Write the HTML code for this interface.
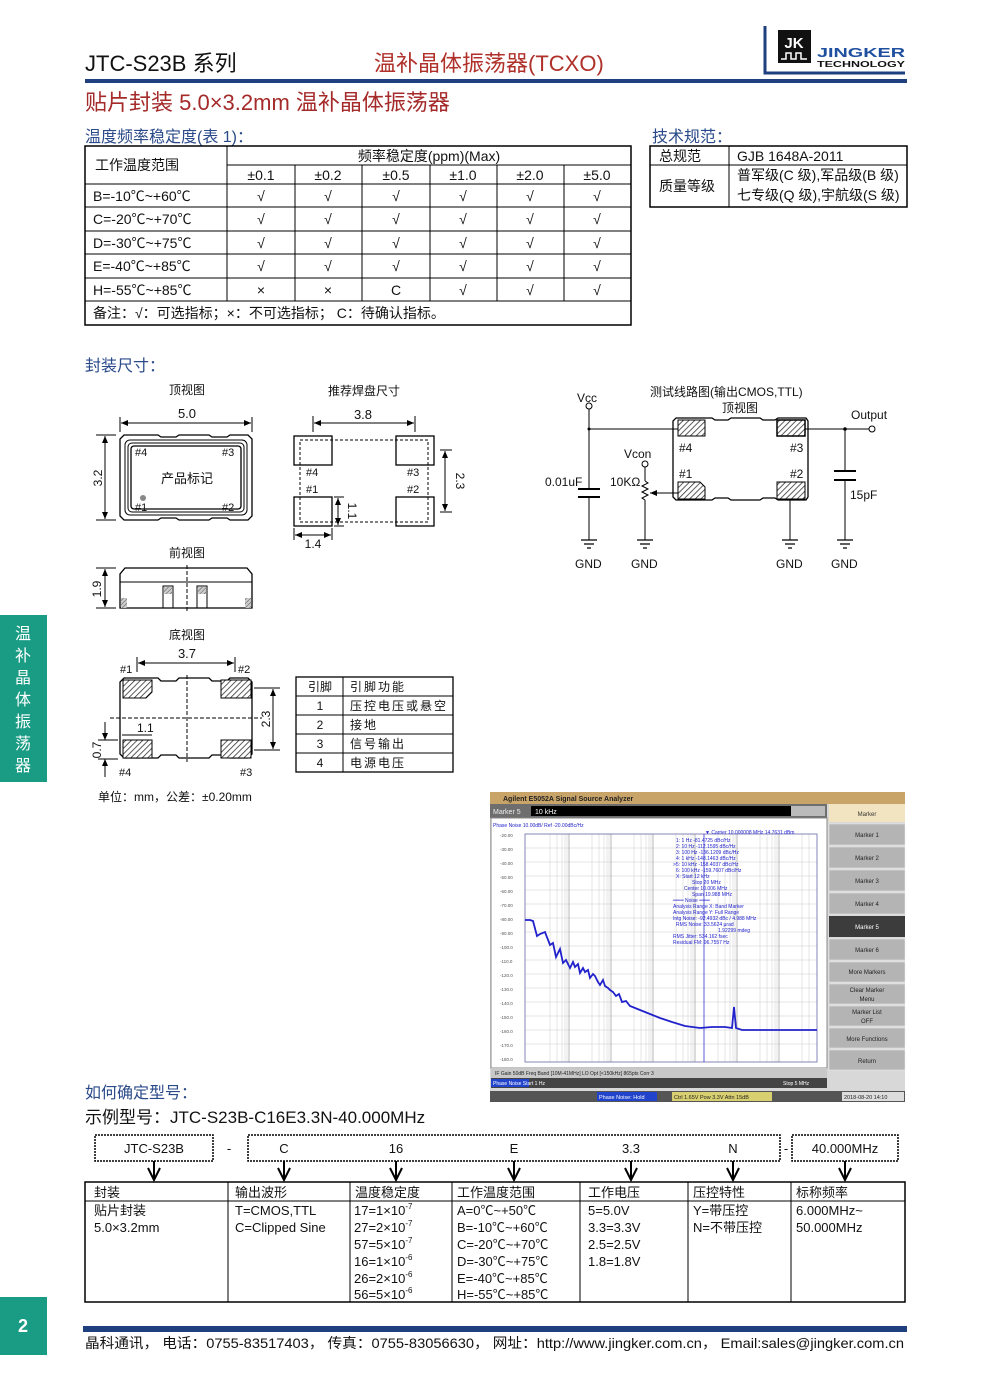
<!DOCTYPE html>
<html><head><meta charset="utf-8">
<style>
html,body{margin:0;padding:0;background:#fff}
svg{display:block}
text{font-family:"Liberation Sans","Noto Sans CJK SC",sans-serif}
</style></head><body>
<svg width="989" height="1400" viewBox="0 0 989 1400" xmlns="http://www.w3.org/2000/svg">
<defs>
<pattern id="h" width="4" height="4" patternUnits="userSpaceOnUse" patternTransform="rotate(45)"><rect width="4" height="4" fill="#fff"/><line x1="0" y1="0" x2="0" y2="4" stroke="#333" stroke-width="1.6"/></pattern>
<pattern id="h2" width="3" height="3" patternUnits="userSpaceOnUse" patternTransform="rotate(45)"><rect width="3" height="3" fill="#ccc"/><line x1="0" y1="0" x2="0" y2="3" stroke="#555" stroke-width="1"/></pattern>
<marker id="ar" markerWidth="8" markerHeight="8" refX="7" refY="4" orient="auto-start-reverse" markerUnits="userSpaceOnUse"><path d="M0,1 L7,4 L0,7 Z" fill="#000"/></marker>
</defs>

<!-- Header -->
<text x="85" y="71" font-size="22" fill="#111">JTC-S23B 系列</text>
<text x="374" y="71" font-size="22" fill="#b0302a">温补晶体振荡器(TCXO)</text>
<path d="M765,26 V73 H905" fill="none" stroke="#1f3f7f" stroke-width="3"/>
<rect x="778" y="30" width="33" height="33" fill="#111"/>
<text x="794" y="48" font-size="15" font-weight="bold" fill="#fff" text-anchor="middle">JK</text>
<path d="M781,59 h5 v-6 h5 v6 h5 v-6 h5 v6 h6" fill="none" stroke="#fff" stroke-width="1.5"/>
<text x="817" y="57" font-size="13" font-weight="bold" fill="#1f4f9f" textLength="88" lengthAdjust="spacingAndGlyphs">JINGKER</text>
<text x="817" y="67" font-size="8" font-weight="bold" fill="#111" textLength="88" lengthAdjust="spacingAndGlyphs">TECHNOLOGY</text>
<rect x="85" y="79" width="822" height="4" fill="#1f3f7f"/>

<text x="85" y="110" font-size="22" fill="#a52a2a">贴片封装 5.0×3.2mm 温补晶体振荡器</text>
<text x="85" y="142" font-size="16" fill="#2a4a8a">温度频率稳定度(表 1)：</text>
<text x="652" y="142" font-size="16" fill="#2a4a8a">技术规范：</text>

<g stroke="#000" fill="none">
<rect x="85" y="146" width="546" height="179" stroke-width="1.5"/>
<line x1="227" y1="165" x2="631" y2="165"/>
<line x1="85" y1="184" x2="631" y2="184"/>
<line x1="85" y1="207" x2="631" y2="207"/>
<line x1="85" y1="231" x2="631" y2="231"/>
<line x1="85" y1="254" x2="631" y2="254"/>
<line x1="85" y1="278" x2="631" y2="278"/>
<line x1="85" y1="301" x2="631" y2="301"/>
<line x1="227" y1="146" x2="227" y2="301"/>
<line x1="295" y1="165" x2="295" y2="301"/>
<line x1="362" y1="165" x2="362" y2="301"/>
<line x1="430" y1="165" x2="430" y2="301"/>
<line x1="497" y1="165" x2="497" y2="301"/>
<line x1="564" y1="165" x2="564" y2="301"/>
</g>
<g font-size="14" fill="#111">
<text x="95" y="170">工作温度范围</text>
<text x="429" y="161" text-anchor="middle">频率稳定度(ppm)(Max)</text>
<g text-anchor="middle">
<text x="261" y="180">±0.1</text><text x="328" y="180">±0.2</text><text x="396" y="180">±0.5</text><text x="463" y="180">±1.0</text><text x="530" y="180">±2.0</text><text x="597" y="180">±5.0</text>
</g>
<text x="93" y="201">B=-10℃~+60℃</text>
<text x="93" y="224">C=-20℃~+70℃</text>
<text x="93" y="248">D=-30℃~+75℃</text>
<text x="93" y="271">E=-40℃~+85℃</text>
<text x="93" y="295">H=-55℃~+85℃</text>
<g text-anchor="middle">
<text x="261" y="201">√</text><text x="328" y="201">√</text><text x="396" y="201">√</text><text x="463" y="201">√</text><text x="530" y="201">√</text><text x="597" y="201">√</text>
<text x="261" y="224">√</text><text x="328" y="224">√</text><text x="396" y="224">√</text><text x="463" y="224">√</text><text x="530" y="224">√</text><text x="597" y="224">√</text>
<text x="261" y="248">√</text><text x="328" y="248">√</text><text x="396" y="248">√</text><text x="463" y="248">√</text><text x="530" y="248">√</text><text x="597" y="248">√</text>
<text x="261" y="271">√</text><text x="328" y="271">√</text><text x="396" y="271">√</text><text x="463" y="271">√</text><text x="530" y="271">√</text><text x="597" y="271">√</text>
<text x="261" y="295">×</text><text x="328" y="295">×</text><text x="396" y="295">C</text><text x="463" y="295">√</text><text x="530" y="295">√</text><text x="597" y="295">√</text>
</g>
<text x="93" y="318">备注：√：可选指标；×：不可选指标； C：待确认指标。</text>
</g>

<g stroke="#000" fill="none">
<rect x="650" y="146" width="257" height="61" stroke-width="1.5"/>
<line x1="650" y1="165" x2="907" y2="165"/>
<line x1="729" y1="146" x2="729" y2="207"/>
</g>
<g font-size="14" fill="#111">
<text x="659" y="161">总规范</text>
<text x="737" y="161">GJB 1648A-2011</text>
<text x="659" y="191">质量等级</text>
<text x="737" y="180">普军级(C 级),军品级(B 级)</text>
<text x="737" y="200">七专级(Q 级),宇航级(S 级)</text>
</g>

<text x="85" y="371" font-size="16" fill="#2a4a8a">封装尺寸：</text>

<g font-size="12" fill="#111" text-anchor="middle">
<text x="187" y="394">顶视图</text>
<text x="364" y="395">推荐焊盘尺寸</text>
<text x="187" y="557">前视图</text>
<text x="187" y="639">底视图</text>
<text x="187" y="418" font-size="13">5.0</text>
<text x="363" y="419" font-size="13">3.8</text>
<text x="187" y="658" font-size="13">3.7</text>
</g>
<g stroke="#000" fill="none" stroke-width="1">
<line x1="120" y1="417" x2="120" y2="432"/><line x1="252" y1="417" x2="252" y2="432"/>
<line x1="121" y1="423" x2="251" y2="423" marker-start="url(#ar)" marker-end="url(#ar)"/>
<line x1="96" y1="435" x2="116" y2="435"/><line x1="96" y1="520" x2="116" y2="520"/>
<line x1="105" y1="436" x2="105" y2="519" marker-start="url(#ar)" marker-end="url(#ar)"/>
<path d="M124,435 H158 L161,437 H176 L179,435 H209 L212,437 H227 L230,435 H248 L252,439 V516 L248,520 H230 L227,518 H212 L209,520 H179 L176,518 H161 L158,520 H124 L120,516 V439 Z" stroke-width="1.3"/>
<rect x="125" y="440" width="122" height="75" rx="5"/>
<rect x="128" y="443" width="116" height="69" rx="4"/>
<rect x="131" y="446" width="110" height="63" rx="3" stroke-width="1.3"/>
<rect x="294" y="436" width="38" height="29" stroke-width="1.3"/>
<rect x="396" y="436" width="38" height="29" stroke-width="1.3"/>
<rect x="294" y="497" width="38" height="29" stroke-width="1.3"/>
<rect x="396" y="497" width="38" height="29" stroke-width="1.3"/>
<rect x="300" y="440" width="128" height="82" stroke-dasharray="3,2"/>
<line x1="313" y1="416" x2="313" y2="432"/><line x1="415" y1="416" x2="415" y2="432"/>
<line x1="314" y1="423" x2="414" y2="423" marker-start="url(#ar)" marker-end="url(#ar)"/>
<line x1="440" y1="450" x2="452" y2="450"/><line x1="440" y1="512" x2="452" y2="512"/>
<line x1="445" y1="451" x2="445" y2="511" marker-start="url(#ar)" marker-end="url(#ar)"/>
<line x1="334" y1="497" x2="344" y2="497"/><line x1="334" y1="526" x2="344" y2="526"/>
<line x1="338" y1="498" x2="338" y2="525" marker-start="url(#ar)" marker-end="url(#ar)"/>
<line x1="294" y1="528" x2="294" y2="540"/><line x1="332" y1="528" x2="332" y2="540"/>
<line x1="295" y1="535" x2="331" y2="535" marker-start="url(#ar)" marker-end="url(#ar)"/>
<path d="M125,568 H247 L252,574 V608 H120 V574 Z" stroke-width="1.3"/>
<line x1="120" y1="582" x2="252" y2="582"/>
<line x1="187" y1="565" x2="187" y2="612" stroke-dasharray="4,2"/>
<rect x="163" y="586" width="10" height="22"/><rect x="197" y="586" width="10" height="22"/>
<line x1="96" y1="568" x2="116" y2="568"/><line x1="96" y1="608" x2="116" y2="608"/>
<line x1="105" y1="569" x2="105" y2="607" marker-start="url(#ar)" marker-end="url(#ar)"/>
<line x1="137" y1="657" x2="137" y2="672"/><line x1="235" y1="657" x2="235" y2="672"/>
<line x1="138" y1="663" x2="234" y2="663" marker-start="url(#ar)" marker-end="url(#ar)"/>
<path d="M124,678 H158 L161,681 H176 L179,678 H209 L212,681 H227 L230,678 H248 L252,682 V754 L248,758 H230 L227,755 H212 L209,758 H179 L176,755 H161 L158,758 H124 L120,754 V682 Z" stroke-width="1.3"/>
<line x1="187" y1="675" x2="187" y2="762" stroke-dasharray="4,2"/>
<line x1="110" y1="718" x2="262" y2="718" stroke-dasharray="4,2"/>
<line x1="254" y1="688" x2="280" y2="688"/><line x1="254" y1="750" x2="280" y2="750"/>
<line x1="273" y1="689" x2="273" y2="749" marker-start="url(#ar)" marker-end="url(#ar)"/>
<line x1="122" y1="735" x2="152" y2="735"/>
<line x1="98" y1="740" x2="118" y2="740"/><line x1="98" y1="759" x2="118" y2="759"/>
<line x1="105" y1="722" x2="105" y2="740" marker-end="url(#ar)"/>
<line x1="105" y1="777" x2="105" y2="759" marker-end="url(#ar)"/>
</g>
<g fill="#888"><circle cx="143" cy="498" r="3"/></g>
<rect x="164" y="587" width="8" height="7" fill="url(#h2)"/><rect x="198" y="587" width="8" height="7" fill="url(#h2)"/>
<rect x="121" y="598" width="6" height="10" fill="url(#h2)"/><rect x="245" y="598" width="6" height="10" fill="url(#h2)"/>
<g stroke="#000" stroke-width="1">
<path d="M123,680 H152 V692 L146,698 H123 Z" fill="url(#h)"/>
<rect x="221" y="680" width="30" height="18" fill="url(#h)"/>
<rect x="123" y="740" width="29" height="18" fill="url(#h)"/>
<rect x="221" y="740" width="30" height="18" fill="url(#h)"/>
</g>
<g font-size="11" fill="#111">
<text x="135" y="456">#4</text><text x="222" y="456">#3</text>
<text x="135" y="511">#1</text><text x="222" y="511">#2</text>
<text x="187" y="483" text-anchor="middle" font-size="13">产品标记</text>
<text x="306" y="476">#4</text><text x="407" y="476">#3</text>
<text x="306" y="493">#1</text><text x="407" y="493">#2</text>
<text x="313" y="548" text-anchor="middle" font-size="12">1.4</text>
<text x="120" y="673">#1</text><text x="238" y="673">#2</text>
<text x="119" y="776">#4</text><text x="240" y="776">#3</text>
<text x="137" y="732" font-size="12">1.1</text>
<text x="102" y="478" font-size="12" transform="rotate(-90 102 478)" text-anchor="middle">3.2</text>
<text x="101" y="589" font-size="12" transform="rotate(-90 101 589)" text-anchor="middle">1.9</text>
<text x="456" y="481" font-size="12" transform="rotate(90 456 481)" text-anchor="middle">2.3</text>
<text x="348" y="511" font-size="12" transform="rotate(90 348 511)" text-anchor="middle">1.1</text>
<text x="270" y="719" font-size="12" transform="rotate(-90 270 719)" text-anchor="middle">2.3</text>
<text x="101" y="750" font-size="12" transform="rotate(-90 101 750)" text-anchor="middle">0.7</text>
<text x="98" y="801" font-size="12">单位：mm，公差：±0.20mm</text>
</g>
<g stroke="#000" fill="none">
<rect x="296" y="677" width="157" height="95" stroke-width="1.3"/>
<line x1="343" y1="677" x2="343" y2="772"/>
<line x1="296" y1="696" x2="453" y2="696"/><line x1="296" y1="715" x2="453" y2="715"/>
<line x1="296" y1="734" x2="453" y2="734"/><line x1="296" y1="753" x2="453" y2="753"/>
</g>
<g font-size="12" fill="#111">
<text x="320" y="691" text-anchor="middle">引脚</text><text x="350" y="691" letter-spacing="2">引脚功能</text>
<text x="320" y="710" text-anchor="middle">1</text><text x="350" y="710" letter-spacing="2">压控电压或悬空</text>
<text x="320" y="729" text-anchor="middle">2</text><text x="350" y="729" letter-spacing="2">接地</text>
<text x="320" y="748" text-anchor="middle">3</text><text x="350" y="748" letter-spacing="2">信号输出</text>
<text x="320" y="767" text-anchor="middle">4</text><text x="350" y="767" letter-spacing="2">电源电压</text>
</g>

<g font-size="12" fill="#111">
<text x="650" y="396">测试线路图(输出CMOS,TTL)</text>
<text x="722" y="412">顶视图</text>
<text x="577" y="402">Vcc</text>
<text x="851" y="419">Output</text>
<text x="624" y="458">Vcon</text>
<text x="610" y="486">10KΩ</text>
<text x="545" y="486">0.01uF</text>
<text x="850" y="499">15pF</text>
<text x="679" y="452">#4</text><text x="790" y="452">#3</text>
<text x="679" y="478">#1</text><text x="790" y="478">#2</text>
<text x="575" y="568">GND</text><text x="631" y="568">GND</text><text x="776" y="568">GND</text><text x="831" y="568">GND</text>
</g>
<g stroke="#000" fill="none" stroke-width="1">
<path d="M676,418 H712 L715,420 H728 L731,418 H760 L763,420 H775 L778,418 H806 L808,421 V497 L806,500 H778 L775,498 H763 L760,500 H731 L728,498 H715 L712,500 H676 L673,497 V421 Z" stroke-width="1.3"/>
<circle cx="589" cy="406" r="3"/>
<line x1="589" y1="409" x2="589" y2="489"/>
<line x1="589" y1="429" x2="679" y2="429"/>
<line x1="578" y1="489" x2="600" y2="489" stroke-width="2"/>
<line x1="578" y1="497" x2="600" y2="497" stroke-width="2"/>
<line x1="589" y1="497" x2="589" y2="540"/>
<circle cx="645" cy="464" r="3"/>
<line x1="645" y1="467" x2="645" y2="481"/>
<path d="M645,481 l3,2 l-6,3 l6,3 l-6,3 l6,3 l-6,3 l3,2"/>
<line x1="645" y1="500" x2="645" y2="540"/>
<line x1="680" y1="493" x2="650" y2="493" marker-end="url(#ar)"/>
<line x1="805" y1="429" x2="869" y2="429"/>
<circle cx="872" cy="429" r="3"/>
<line x1="845" y1="429" x2="845" y2="471"/>
<line x1="834" y1="471" x2="856" y2="471" stroke-width="2"/>
<line x1="834" y1="480" x2="856" y2="480" stroke-width="2"/>
<line x1="845" y1="480" x2="845" y2="540"/>
<line x1="790" y1="498" x2="790" y2="540"/>
<g stroke-width="1.3">
<path d="M581,540 h16 M584,544 h10 M587,548 h4"/>
<path d="M637,540 h16 M640,544 h10 M643,548 h4"/>
<path d="M782,540 h16 M785,544 h10 M788,548 h4"/>
<path d="M837,540 h16 M840,544 h10 M843,548 h4"/>
</g>
<path d="M678,420 H705 V436 H678 Z" fill="url(#h)"/>
<path d="M777,420 H805 V436 H777 Z" fill="url(#h)" stroke-width="1.5"/>
<path d="M678,482 H700 L705,487 V499 H678 Z" fill="url(#h)"/>
<rect x="777" y="482" width="28" height="17" fill="url(#h)"/>
</g>
<circle cx="845" cy="429" r="1.8" fill="#000"/>
<circle cx="589" cy="429" r="1.5" fill="#000"/>

<rect x="0" y="615" width="47" height="167" fill="#1a9c84"/>
<g font-size="16" fill="#fff" text-anchor="middle">
<text x="23" y="639">温</text><text x="23" y="661">补</text><text x="23" y="683">晶</text><text x="23" y="705">体</text><text x="23" y="727">振</text><text x="23" y="749">荡</text><text x="23" y="771">器</text>
</g>

<!-- Analyzer -->
<rect x="490" y="792" width="415" height="310" fill="#d8d8d8"/>
<rect x="490" y="792" width="415" height="12" fill="#c9a469"/>
<text x="503" y="801" font-size="7" font-weight="bold" fill="#222">Agilent E5052A Signal Source Analyzer</text>
<rect x="490" y="804" width="337" height="14" fill="#6e6e6e"/>
<rect x="531" y="806" width="260" height="10" fill="#000"/>
<text x="493" y="814" font-size="7" fill="#eee">Marker 5</text>
<text x="535" y="814" font-size="7" fill="#fff">10 kHz</text>
<rect x="791" y="806" width="34" height="10" fill="#bbb"/>
<rect x="491" y="818" width="336" height="250" fill="#fff" stroke="#888"/>
<text x="493" y="827" font-size="5" fill="#22c">Phase Noise 10.00dB/ Ref -20.00dBc/Hz</text>
<g stroke="#ccc" stroke-width="0.5">
<line x1="525" y1="848" x2="817" y2="848"/><line x1="525" y1="862" x2="817" y2="862"/><line x1="525" y1="876" x2="817" y2="876"/><line x1="525" y1="890" x2="817" y2="890"/><line x1="525" y1="904" x2="817" y2="904"/><line x1="525" y1="918" x2="817" y2="918"/><line x1="525" y1="932" x2="817" y2="932"/><line x1="525" y1="946" x2="817" y2="946"/><line x1="525" y1="960" x2="817" y2="960"/><line x1="525" y1="974" x2="817" y2="974"/><line x1="525" y1="988" x2="817" y2="988"/><line x1="525" y1="1002" x2="817" y2="1002"/><line x1="525" y1="1016" x2="817" y2="1016"/><line x1="525" y1="1030" x2="817" y2="1030"/><line x1="525" y1="1044" x2="817" y2="1044"/>
<path d="M550,834V1062M557,834V1062M562,834V1062M565,834V1062M567,834V1062M592,834V1062M599,834V1062M604,834V1062M607,834V1062M609,834V1062M634,834V1062M641,834V1062M646,834V1062M649,834V1062M651,834V1062M676,834V1062M683,834V1062M688,834V1062M691,834V1062M693,834V1062M718,834V1062M725,834V1062M730,834V1062M733,834V1062M735,834V1062M760,834V1062M767,834V1062M772,834V1062M775,834V1062M777,834V1062M802,834V1062M809,834V1062"/>
</g>
<g stroke="#999" stroke-width="0.7"><path d="M569,834V1062M611,834V1062M653,834V1062M695,834V1062M737,834V1062M779,834V1062"/></g>
<rect x="525" y="834" width="292" height="228" fill="none" stroke="#66a" stroke-width="0.8"/>
<g font-size="4.5" fill="#555">
<text x="500" y="837">-20.00</text><text x="500" y="851">-30.00</text><text x="500" y="865">-40.00</text><text x="500" y="879">-50.00</text><text x="500" y="893">-60.00</text><text x="500" y="907">-70.00</text><text x="500" y="921">-80.00</text><text x="500" y="935">-90.00</text><text x="500" y="949">-100.0</text><text x="500" y="963">-110.0</text><text x="500" y="977">-120.0</text><text x="500" y="991">-130.0</text><text x="500" y="1005">-140.0</text><text x="500" y="1019">-150.0</text><text x="500" y="1033">-160.0</text><text x="500" y="1047">-170.0</text><text x="500" y="1061">-180.0</text>
</g>
<line x1="704" y1="834" x2="704" y2="1062" stroke="#33c" stroke-width="0.8"/>
<polyline fill="none" stroke="#22c" stroke-width="1.8" points="525,920 530,920 533,921 537,936 540,934 545,932 550,945 553,943 556,957 560,949 563,963 566,960 570,968 573,962 575,967 578,964 580,973 583,968 585,972 588,970 590,978 593,974 595,976 598,982 600,985 603,980 605,986 608,988 610,990 613,992 616,996 619,994 622,1002 626,1001 630,1006 640,1010 650,1014 660,1018 672,1022 685,1026 700,1028 712,1027 725,1027 732,1028 734,1007 736,1028 742,1030 760,1030 780,1030 800,1030 817,1030"/>
<g font-size="5" fill="#22c" font-family="Liberation Mono">
<text x="705" y="834">▼ Carrier 10.000008 MHz   14.7631 dBm</text>
<text x="676" y="842">1:  1 Hz       -81.4725 dBc/Hz</text>
<text x="676" y="848">2:  10 Hz     -112.1595 dBc/Hz</text>
<text x="676" y="854">3:  100 Hz    -136.1209 dBc/Hz</text>
<text x="676" y="860">4:  1 kHz     -148.1463 dBc/Hz</text>
<text x="673" y="866">&gt;5:  10 kHz    -158.4037 dBc/Hz</text>
<text x="676" y="872">6:  100 kHz   -159.7607 dBc/Hz</text>
<text x="676" y="878">X: Start 12 kHz</text>
<text x="692" y="884">Stop 20 MHz</text>
<text x="684" y="890">Center 10.006 MHz</text>
<text x="692" y="896">Span 19.988 MHz</text>
<text x="673" y="902">═══ Noise ═══</text>
<text x="673" y="908">Analysis Range X: Band Marker</text>
<text x="673" y="914">Analysis Range Y: Full Range</text>
<text x="673" y="920">Intg Noise: -92.4932 dBc / 4.988 MHz</text>
<text x="676" y="926">RMS Noise: 33.5624 µrad</text>
<text x="718" y="932">1.92299 mdeg</text>
<text x="673" y="938">RMS Jitter: 534.162 fsec</text>
<text x="673" y="944">Residual FM: 96.7557 Hz</text>
</g>
<rect x="491" y="1068" width="336" height="10" fill="#c8c8c8"/>
<text x="495" y="1075" font-size="5" fill="#222">IF Gain 50dB         Freq Band [10M-41MHz]          LO Opt [&lt;150kHz]        865pts        Corr 3</text>
<rect x="491" y="1078" width="336" height="10" fill="#444"/>
<rect x="491" y="1079" width="38" height="8" fill="#2244cc"/>
<text x="493" y="1085" font-size="5" fill="#fff">Phase Noise  Start 1 Hz</text>
<text x="783" y="1085" font-size="5" fill="#fff">Stop 5 MHz</text>
<rect x="490" y="1091" width="415" height="11" fill="#555"/>
<rect x="597" y="1092" width="60" height="9" fill="#2244cc"/>
<text x="599" y="1099" font-size="5.5" fill="#fff">Phase Noise: Hold</text>
<rect x="672" y="1092" width="100" height="9" fill="#d8d070"/>
<text x="674" y="1099" font-size="5.5" fill="#222">Ctrl 1.65V Pow 3.3V Attn 15dB</text>
<rect x="842" y="1092" width="62" height="9" fill="#ddd"/>
<text x="844" y="1099" font-size="5.5" fill="#222">2018-08-20 14:10</text>
<rect x="829" y="804" width="76" height="18" fill="#f2e4c0"/>
<text x="867" y="816" font-size="6" fill="#333" text-anchor="middle">Marker</text>
<g fill="#b4b4b4" stroke="#eee" stroke-width="0.5">
<rect x="829" y="824" width="76" height="21"/><rect x="829" y="847" width="76" height="21"/><rect x="829" y="870" width="76" height="21"/><rect x="829" y="893" width="76" height="21"/><rect x="829" y="939" width="76" height="21"/><rect x="829" y="962" width="76" height="20"/><rect x="829" y="984" width="76" height="20"/><rect x="829" y="1006" width="76" height="20"/><rect x="829" y="1028" width="76" height="20"/><rect x="829" y="1050" width="76" height="20"/>
</g>
<rect x="829" y="916" width="76" height="21" fill="#3c3c3c"/>
<g font-size="6" fill="#222" text-anchor="middle">
<text x="867" y="837">Marker 1</text><text x="867" y="860">Marker 2</text><text x="867" y="883">Marker 3</text><text x="867" y="906">Marker 4</text><text x="867" y="929" fill="#fff">Marker 5</text><text x="867" y="952">Marker 6</text><text x="867" y="974">More Markers</text><text x="867" y="992">Clear Marker</text><text x="867" y="1001">Menu</text><text x="867" y="1014">Marker List</text><text x="867" y="1023">OFF</text><text x="867" y="1041">More Functions</text><text x="867" y="1063">Return</text>
</g>

<text x="85" y="1098" font-size="16" fill="#2a4a8a">如何确定型号：</text>
<text x="85" y="1123" font-size="17" fill="#111">示例型号：JTC-S23B-C16E3.3N-40.000MHz</text>
<g fill="none" stroke="#000" stroke-width="1.5" stroke-dasharray="2,1">
<rect x="95" y="1135" width="118" height="26"/>
<rect x="248" y="1135" width="532" height="26"/>
<rect x="792" y="1135" width="106" height="26"/>
</g>
<g font-size="13" fill="#111" text-anchor="middle">
<text x="154" y="1153">JTC-S23B</text>
<text x="229" y="1153">-</text>
<text x="284" y="1153">C</text>
<text x="396" y="1153">16</text>
<text x="514" y="1153">E</text>
<text x="631" y="1153">3.3</text>
<text x="733" y="1153">N</text>
<text x="786" y="1153">-</text>
<text x="845" y="1153">40.000MHz</text>
</g>
<g stroke="#000" stroke-width="2" fill="none">
<path d="M154,1161 V1180 M148,1168 L154,1180 L160,1168"/>
<path d="M284,1161 V1180 M278,1168 L284,1180 L290,1168"/>
<path d="M396,1161 V1180 M390,1168 L396,1180 L402,1168"/>
<path d="M514,1161 V1180 M508,1168 L514,1180 L520,1168"/>
<path d="M631,1161 V1180 M625,1168 L631,1180 L637,1168"/>
<path d="M733,1161 V1180 M727,1168 L733,1180 L739,1168"/>
<path d="M845,1161 V1180 M839,1168 L845,1180 L851,1168"/>
</g>
<g stroke="#000" fill="none">
<rect x="85" y="1182" width="820" height="120" stroke-width="1.5"/>
<line x1="85" y1="1201" x2="905" y2="1201"/>
<line x1="228" y1="1182" x2="228" y2="1302"/><line x1="350" y1="1182" x2="350" y2="1302"/><line x1="452" y1="1182" x2="452" y2="1302"/><line x1="580" y1="1182" x2="580" y2="1302"/><line x1="688" y1="1182" x2="688" y2="1302"/><line x1="791" y1="1182" x2="791" y2="1302"/>
</g>
<g font-size="13" fill="#111">
<text x="94" y="1197">封装</text><text x="235" y="1197">输出波形</text><text x="355" y="1197">温度稳定度</text><text x="457" y="1197">工作温度范围</text><text x="588" y="1197">工作电压</text><text x="693" y="1197">压控特性</text><text x="796" y="1197">标称频率</text>
<text x="94" y="1215">贴片封装</text><text x="94" y="1232">5.0×3.2mm</text>
<text x="235" y="1215">T=CMOS,TTL</text><text x="235" y="1232">C=Clipped Sine</text>
<text x="354" y="1215">17=1×10<tspan font-size="8" dy="-6">-7</tspan></text>
<text x="354" y="1232">27=2×10<tspan font-size="8" dy="-6">-7</tspan></text>
<text x="354" y="1249">57=5×10<tspan font-size="8" dy="-6">-7</tspan></text>
<text x="354" y="1266">16=1×10<tspan font-size="8" dy="-6">-6</tspan></text>
<text x="354" y="1283">26=2×10<tspan font-size="8" dy="-6">-6</tspan></text>
<text x="354" y="1299">56=5×10<tspan font-size="8" dy="-6">-6</tspan></text>
<text x="457" y="1215">A=0℃~+50℃</text><text x="457" y="1232">B=-10℃~+60℃</text><text x="457" y="1249">C=-20℃~+70℃</text><text x="457" y="1266">D=-30℃~+75℃</text><text x="457" y="1283">E=-40℃~+85℃</text><text x="457" y="1299">H=-55℃~+85℃</text>
<text x="588" y="1215">5=5.0V</text><text x="588" y="1232">3.3=3.3V</text><text x="588" y="1249">2.5=2.5V</text><text x="588" y="1266">1.8=1.8V</text>
<text x="693" y="1215">Y=带压控</text><text x="693" y="1232">N=不带压控</text>
<text x="796" y="1215">6.000MHz~</text><text x="796" y="1232">50.000MHz</text>
</g>

<rect x="0" y="1297" width="47" height="58" fill="#1a9c84"/>
<text x="23" y="1332" font-size="18" font-weight="bold" fill="#fff" text-anchor="middle" font-family="Liberation Serif">2</text>
<rect x="83" y="1326" width="824" height="6" fill="#1f3f7f"/>
<text x="85" y="1348" font-size="14" fill="#111" textLength="819" lengthAdjust="spacingAndGlyphs">晶科通讯， 电话：0755-83517403， 传真：0755-83056630， 网址：http://www.jingker.com.cn， Email:sales@jingker.com.cn</text>
</svg>
</body></html>
